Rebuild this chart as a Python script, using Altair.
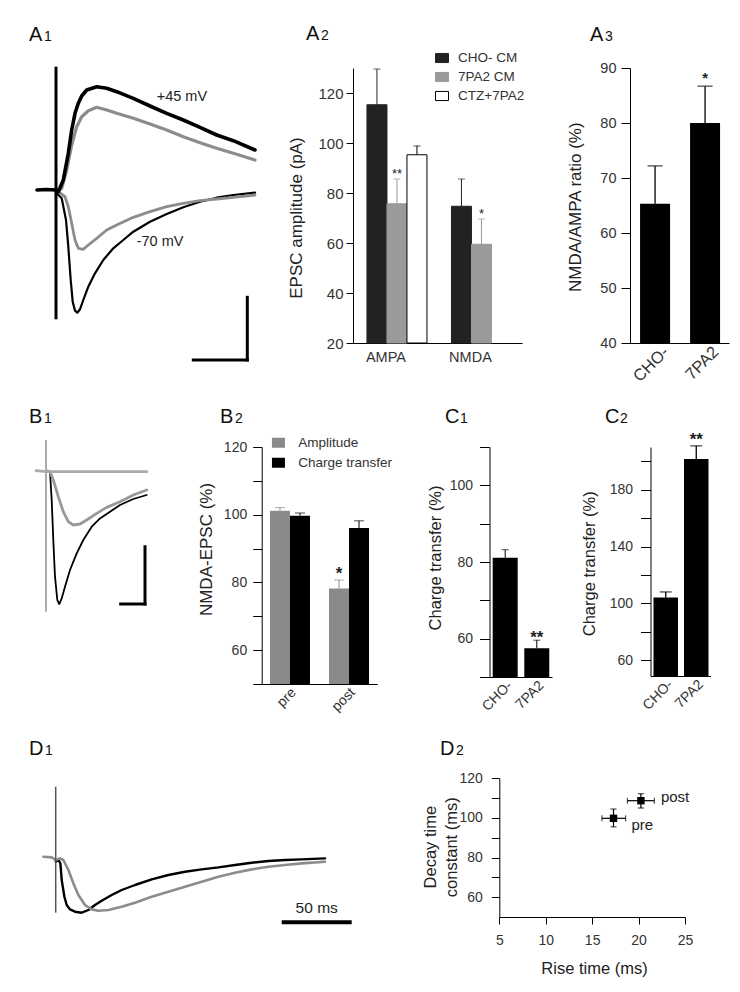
import altair as alt
import pandas as pd

FONT = "Liberation Sans"
INK = "#222222"
TICK_INK = "#333333"
W, H = 724, 976

# ======================= DATA =======================
# A1: EPSCs at +45 mV and -70 mV (t: ms after stimulus, i: current relative to baseline)
A1_P45_CHO_T = [-19, -10, 0, 2.3, 7.3, 12.3, 15.7, 19, 22.3, 25.7, 30.7, 40.7, 50.7, 60.7, 77.3, 94, 110.7, 127.3, 144, 160.7, 177.3, 199]
A1_P45_CHO_I = [0, 0.5, 0, -1.7, 10, 36.7, 60, 76.7, 86.7, 94, 100, 103.3, 101.7, 98.3, 91.7, 84, 76.7, 70, 62.7, 55, 49.3, 40]
A1_P45_7PA2_T = [0, 5.7, 10.7, 15.7, 20.7, 25.7, 32.3, 40.7, 50.7, 60.7, 77.3, 94, 110.7, 127.3, 144, 160.7, 177.3, 199]
A1_P45_7PA2_I = [-2, 1.7, 20, 45, 63.3, 73.3, 79.3, 82.7, 80, 76.7, 71.7, 66, 60, 53.3, 47.3, 41.7, 36.7, 30]
A1_M70_CHO_T = [-19, -10, 0, 0.7, 5.7, 10, 12.3, 14.7, 16.7, 19, 21.3, 24, 27.3, 32.3, 39, 47.3, 57.3, 67.3, 77.3, 94, 110.7, 127.3, 144, 160.7, 177.3, 199]
A1_M70_CHO_I = [0, 0.5, 0, -3.3, -8.3, -30, -56.7, -90, -111.7, -120.7, -122.7, -119.3, -110, -96.7, -83.3, -70, -58.3, -50, -41.7, -31.7, -24, -17.3, -11.7, -7.7, -5, -2.7]
A1_M70_7PA2_T = [0, 2.3, 9, 12.3, 15.7, 19, 22.3, 27.3, 32.3, 40.7, 50.7, 60.7, 77.3, 94, 110.7, 127.3, 144, 160.7, 177.3, 199]
A1_M70_7PA2_I = [0, -1.7, -6.7, -16.7, -33.3, -50, -58.3, -59.3, -55, -48.3, -40, -35, -27.3, -21.7, -16.7, -13.3, -10.7, -9, -7.3, -5]
A1_LABELS = ["+45 mV", "-70 mV"]

# B1: NMDA EPSCs
B1_FLAT_T = [-10, 0, 20, 40, 60, 80, 100.7]
B1_FLAT_I = [0, -1, -1, -1, -1, -1, -1]
B1_GRAY_T = [0, 4, 7.3, 12.3, 17.3, 22.3, 27.3, 34, 40.7, 50.7, 60.7, 74, 87.3, 100.7]
B1_GRAY_I = [0, -1, -9.3, -26, -41, -51, -54.3, -53.3, -49.3, -42.7, -36.7, -31, -24.3, -19.3]
B1_BLACK_T = [0, 4, 5.7, 7.3, 9, 11.3, 13.3, 15.7, 19, 24, 30.7, 37.3, 45.7, 54, 64, 74, 87.3, 100.7]
B1_BLACK_I = [0, -1, -29.3, -69.3, -106, -129.3, -133.3, -127.7, -116, -99.3, -82.7, -69.3, -56, -47.7, -41, -34.3, -28.3, -24.3]

# D1: normalised NMDA EPSCs
D1_BLACK_T = [0, 2.7, 4.7, 6, 8.7, 11, 14.3, 19.3, 26, 32.7, 39.3, 46, 56, 66, 79.3, 96, 112.7, 129.3, 146, 162.7, 179.3, 196, 212.7, 229.3, 246, 269.3]
D1_BLACK_I = [-5, -3.3, -6.7, -23.3, -40, -48.3, -52.7, -55, -56, -53.3, -48.3, -44, -38.3, -33.3, -28.3, -22.7, -18.3, -15, -12.7, -10.7, -8.3, -6, -4.3, -3.3, -2.7, -1.7]
D1_GRAY_T = [-12.3, -4, 0, 4.3, 7.7, 12.7, 17.7, 22.7, 29.3, 36, 42.7, 52.7, 66, 79.3, 96, 112.7, 129.3, 146, 162.7, 179.3, 196, 212.7, 229.3, 246, 269.3]
D1_GRAY_I = [0, -0.7, -3.3, -1.7, -3.3, -13.3, -26.7, -38.3, -48.3, -52.7, -54, -53.3, -50, -46, -40, -35, -30, -25, -20, -16, -12.7, -10, -8.3, -6.7, -5]
D1_LABEL = "50 ms"

# A2: EPSC amplitude
A2_CATS = ["AMPA", "NMDA"]
A2_SERIES = ["CHO- CM", "7PA2 CM", "CTZ+7PA2"]
A2_CAT = ["AMPA", "AMPA", "AMPA", "NMDA", "NMDA"]
A2_GRP = ["CHO- CM", "7PA2 CM", "CTZ+7PA2", "CHO- CM", "7PA2 CM"]
A2_MEAN = [115.3, 75.7, 95.3, 74.7, 59.5]
A2_ERR = [129.6, 85.6, 98.8, 85.6, 69.6]
A2_SIG = ["", "**", "", "", "*"]

# A3: NMDA/AMPA ratio
A3_CATS = ["CHO-", "7PA2"]
A3_MEAN = [65.3, 80.0]
A3_ERR = [72.2, 86.7]
A3_SIG = ["", "*"]

# B2: NMDA-EPSC
B2_CATS = ["pre", "post"]
B2_SERIES = ["Amplitude", "Charge transfer"]
B2_CAT = ["pre", "pre", "post", "post"]
B2_GRP = ["Amplitude", "Charge transfer", "Amplitude", "Charge transfer"]
B2_MEAN = [101.2, 99.7, 78.2, 96.1]
B2_ERR = [102.1, 100.5, 80.7, 98.2]
B2_SIG = ["", "", "*", ""]

# C1 / C2: charge transfer
C1_CATS = ["CHO-", "7PA2"]
C1_MEAN = [81.1, 57.5]
C1_ERR = [83.2, 59.6]
C1_SIG = ["", "**"]
C2_CATS = ["CHO-", "7PA2"]
C2_MEAN = [104.2, 201.5]
C2_ERR = [108.1, 210.8]
C2_SIG = ["", "**"]

# D2: kinetics
D2_COND = ["pre", "post"]
D2_RISE = [17.3, 20.25]
D2_RISE_LO = [16.05, 18.8]
D2_RISE_HI = [18.6, 21.7]
D2_DECAY = [99.8, 108.7]
D2_DECAY_LO = [95.5, 105.0]
D2_DECAY_HI = [104.5, 112.2]

PANELS = [("A", "1"), ("A", "2"), ("A", "3"), ("B", "1"), ("B", "2"),
          ("C", "1"), ("C", "2"), ("D", "1"), ("D", "2")]

# ======================= HELPERS =======================
ONE = pd.DataFrame({"k": [0]})


def lin(domain, rng):
    return alt.Scale(domain=domain, range=rng, nice=False, zero=False)


def trace(t, i, xs, ys, color, width):
    return alt.Chart(pd.DataFrame({"t": t, "i": i})).mark_line(
        color=color, strokeWidth=width, strokeJoin="round", strokeCap="round"
    ).encode(x=alt.X("t:Q", scale=xs, axis=None), y=alt.Y("i:Q", scale=ys, axis=None))


def bar_rule(x1, x2, y1, y2, xs, ys, color, width, cap="square"):
    return alt.Chart(ONE).mark_rule(color=color, strokeWidth=width, strokeCap=cap).encode(
        x=alt.XDatum(x1, scale=xs, axis=None), x2=alt.X2Datum(x2),
        y=alt.YDatum(y1, scale=ys, axis=None), y2=alt.Y2Datum(y2))


def note(text, x, y, xs, ys, size, align="left"):
    return alt.Chart(ONE).mark_text(text=text, font=FONT, fontSize=size, color=INK, fill=INK,
                                    align=align, baseline="middle").encode(
        x=alt.XDatum(x, scale=xs, axis=None), y=alt.YDatum(y, scale=ys, axis=None))


def y_axis(offset, values, title, tx, ty, lsize, tsize, tick, pad, label_expr=None, line_h=None):
    kw = dict(orient="left", offset=offset, values=values, title=title, titleX=tx, titleY=ty,
              titleAngle=-90, titleAlign="center", titleBaseline="middle", titleFont=FONT,
              titleFontSize=tsize, titleFontWeight="normal", titleColor=INK, labelFont=FONT,
              labelFontSize=lsize, labelColor=TICK_INK, labelPadding=pad, tickSize=tick,
              tickColor="black", tickWidth=1, domainColor="black", domainWidth=1, grid=False,
              labelFlush=False, labelOverlap=False)
    if label_expr:
        kw["labelExpr"] = label_expr
    if line_h:
        kw["titleLineHeight"] = line_h
    return alt.Axis(**kw)


def x_axis(offset, lsize, angle=0, loff=0, pad=5, align="center", baseline="top"):
    return alt.Axis(orient="bottom", offset=offset, title=None, ticks=False, labelFont=FONT,
                    labelFontSize=lsize, labelColor=TICK_INK, labelAngle=angle, labelOffset=loff,
                    labelPadding=pad, labelAlign=align, labelBaseline=baseline,
                    domainColor="black", domainWidth=1, grid=False, labelOverlap=False)


def simple_bars(cats, means, errs, sigs, xs, ys, xax, yax, base, cap, star_size, star_dy, ew=1.0):
    d = pd.DataFrame({"cat": cats, "mean": means, "err": errs, "sig": sigs})
    X = alt.X("cat:N", scale=xs, axis=xax)
    bars = alt.Chart(d).mark_bar(color="#000000").encode(
        x=X, y=alt.Y("mean:Q", scale=ys, axis=yax), y2=alt.Y2Datum(base))
    rules = alt.Chart(d).mark_rule(color="#000000", strokeWidth=ew).encode(
        x=X, y=alt.Y("mean:Q", scale=ys, axis=yax), y2="err:Q")
    caps = alt.Chart(d).mark_tick(color="#000000", thickness=ew, size=cap, orient="horizontal").encode(
        x=X, y=alt.Y("err:Q", scale=ys, axis=yax))
    stars = alt.Chart(d).mark_text(font=FONT, fontSize=star_size, fontWeight="bold", color=INK, fill=INK,
                                   baseline="alphabetic", dy=star_dy).encode(
        x=X, y=alt.Y("err:Q", scale=ys, axis=yax), text="sig:N")
    return alt.layer(bars, rules, caps, stars)


def grouped_bars(cat, grp, means, errs, sigs, series, fills, strokes, err_colors, xs, ys, xos,
                 xax, yax, base, legend, cap, star_size, star_dy, star_weight="normal", use_stroke=False):
    d = pd.DataFrame({"cat": cat, "grp": grp, "mean": means, "err": errs, "sig": sigs})
    X = alt.X("cat:N", scale=xs, axis=xax)
    XO = alt.XOffset("grp:N", scale=xos)
    enc = dict(x=X, xOffset=XO, y=alt.Y("mean:Q", scale=ys, axis=yax), y2=alt.Y2Datum(base),
               fill=alt.Fill("grp:N", scale=alt.Scale(domain=series, range=fills), legend=legend))
    if use_stroke:
        enc["stroke"] = alt.Stroke("grp:N", scale=alt.Scale(domain=series, range=strokes), legend=legend)
    bars = alt.Chart(d).mark_bar(strokeWidth=1).encode(**enc)
    layers = [bars]
    for s, c in zip(series, err_colors):
        sub = alt.Chart(d).transform_filter(alt.datum.grp == s)
        layers.append(sub.mark_rule(color=c, strokeWidth=1).encode(
            x=X, xOffset=XO, y=alt.Y("mean:Q", scale=ys, axis=yax), y2="err:Q"))
        layers.append(sub.mark_tick(color=c, thickness=1, size=cap, orient="horizontal").encode(
            x=X, xOffset=XO, y=alt.Y("err:Q", scale=ys, axis=yax)))
    layers.append(alt.Chart(d).mark_text(font=FONT, fontSize=star_size, fontWeight=star_weight,
                                         color=INK, fill=INK, baseline="alphabetic", dy=star_dy).encode(
        x=X, xOffset=XO, y=alt.Y("err:Q", scale=ys, axis=yax), text="sig:N"))
    return alt.layer(*layers)


# ======================= PANELS =======================
layers = []

# ---- A1 traces ----
xs = lin([-19, 199], [29, 247])
ys = lin([-170, 125], [352, 57])
layers.append(alt.layer(
    trace(A1_P45_7PA2_T, A1_P45_7PA2_I, xs, ys, "#8c8c8c", 3.2),
    trace(A1_M70_CHO_T, A1_M70_CHO_I, xs, ys, "#000000", 2.2),
    trace(A1_M70_7PA2_T, A1_M70_7PA2_I, xs, ys, "#8c8c8c", 2.8),
    trace(A1_P45_CHO_T, A1_P45_CHO_I, xs, ys, "#000000", 3.6),
    bar_rule(0, 0, -129.3, 123.3, xs, ys, "#000000", 3, cap="butt"),
    bar_rule(191.3, 191.3, -107.3, -170, xs, ys, "#000000", 3),
    bar_rule(137.3, 191.3, -170, -170, xs, ys, "#000000", 3),
    note(A1_LABELS[0], 100.7, 93.3, xs, ys, 14.5),
    note(A1_LABELS[1], 80.7, -51.7, xs, ys, 14.5),
))

# ---- A2 bars ----
a2_leg = alt.Legend(orient="none", legendX=427, legendY=43, title=None,
                    symbolType="M-1,-0.7H1V0.7H-1Z", symbolSize=169, symbolStrokeWidth=1,
                    labelFont=FONT, labelFontSize=13.5, labelColor=TICK_INK, labelOffset=9,
                    rowPadding=5, padding=0, labelLimit=0)
layers.append(grouped_bars(
    A2_CAT, A2_GRP, A2_MEAN, A2_ERR, A2_SIG, A2_SERIES,
    ["#222222", "#9a9a9a", "#ffffff"], ["#222222", "#9a9a9a", "#000000"],
    ["#222222", "#9a9a9a", "#000000"],
    alt.Scale(type="band", domain=A2_CATS, range=[345, 514], paddingInner=0.29, paddingOuter=0.145, align=0.57),
    lin([20, 130], [335, 60]),
    alt.Scale(domain=A2_SERIES, paddingInner=0, paddingOuter=0),
    x_axis(-641, 14.5, loff=-11, pad=7),
    y_axis(-345, [20, 40, 60, 80, 100, 120], "EPSC amplitude (pA)", -57, 209.5, 15, 17, 7, 3),
    20, a2_leg, 7, 13, -1, use_stroke=True))

# ---- A3 bars ----
layers.append(simple_bars(
    A3_CATS, A3_MEAN, A3_ERR, A3_SIG,
    alt.Scale(type="band", domain=A3_CATS, range=[622, 721], paddingInner=0.4, paddingOuter=0.19, align=0.53),
    lin([40, 90], [335, 60]),
    x_axis(-641, 16.5, angle=-45, loff=11, pad=6, align="right", baseline="middle"),
    y_axis(-622, [40, 50, 60, 70, 80, 90], "NMDA/AMPA  ratio (%)", -54.5, 198.7, 14.5, 17, 9, 5),
    40, 15, 15, -3, ew=1.3))

# ---- B1 traces ----
xs = lin([-10, 101], [28, 139])
ys = lin([-135, 31], [597.7, 431.7])
layers.append(alt.layer(
    trace(B1_BLACK_T, B1_BLACK_I, xs, ys, "#000000", 1.8),
    trace(B1_GRAY_T, B1_GRAY_I, xs, ys, "#999999", 2.8),
    trace(B1_FLAT_T, B1_FLAT_I, xs, ys, "#aaaaaa", 2.8),
    bar_rule(0, 0, -141, 30.7, xs, ys, "#aaaaaa", 2, cap="butt"),
    bar_rule(99, 99, -76, -133.3, xs, ys, "#000000", 3),
    bar_rule(74.7, 99, -133.3, -133.3, xs, ys, "#000000", 3),
))

# ---- B2 bars ----
b2_leg = alt.Legend(orient="none", legendX=263.7, legendY=428, title=None,
                    symbolType="M-1,-0.77H1V0.77H-1Z", symbolSize=169, symbolStrokeWidth=0,
                    labelFont=FONT, labelFontSize=13.5, labelColor=TICK_INK, labelOffset=13,
                    rowPadding=5, padding=0, labelLimit=0)
layers.append(grouped_bars(
    B2_CAT, B2_GRP, B2_MEAN, B2_ERR, B2_SIG, B2_SERIES,
    ["#8a8a8a", "#000000"], ["#8a8a8a", "#000000"], ["#8a8a8a", "#000000"],
    alt.Scale(type="band", domain=B2_CATS, range=[253.7, 369.3], paddingInner=0.322, paddingOuter=0.14, align=0.5),
    lin([50, 120], [676, 439]),
    alt.Scale(domain=B2_SERIES, paddingInner=0, paddingOuter=0),
    x_axis(-300, 14, angle=-45, loff=4, pad=6, align="right", baseline="middle"),
    y_axis(-253.7, [50, 60, 70, 80, 90, 100, 110, 120], "NMDA-EPSC (%)", -55, 541, 14, 17, 9, 6,
           label_expr="datum.value % 20 == 0 ? datum.label : ''"),
    50, b2_leg, 10, 17, -1, star_weight="bold"))

# ---- C1 bars ----
layers.append(simple_bars(
    C1_CATS, C1_MEAN, C1_ERR, C1_SIG,
    alt.Scale(type="band", domain=C1_CATS, range=[481.5, 544], paddingInner=0.209, paddingOuter=0.0935, align=0.54),
    lin([50, 110], [669, 439]),
    x_axis(-307, 14, angle=-45, loff=5, pad=6, align="right", baseline="middle"),
    y_axis(-481.5, [50, 60, 70, 80, 90, 100, 110], "Charge transfer (%)", -54.5, 549.5, 14, 16.5, 10, 7,
           label_expr="datum.value % 20 == 0 ? datum.label : ''"),
    50, 7, 17, 3))

# ---- C2 bars ----
layers.append(simple_bars(
    C2_CATS, C2_MEAN, C2_ERR, C2_SIG,
    alt.Scale(type="band", domain=C2_CATS, range=[642.5, 702.5], paddingInner=0.197, paddingOuter=0.082, align=0.6),
    lin([49, 210], [668, 439]),
    x_axis(-308, 14, angle=-45, loff=5, pad=6, align="right", baseline="middle"),
    y_axis(-642.5, [60, 80, 100, 120, 140, 160, 180, 200], "Charge transfer (%)", -61, 555.3, 14, 16.5, 10, 8,
           label_expr="(datum.value - 60) % 40 == 0 ? datum.label : ''"),
    49, 12, 17, -1, ew=1.3))

# ---- D1 traces ----
xs = lin([-13, 296], [34.7, 343.7])
ys = lin([-66, 70], [914.7, 778.7])
layers.append(alt.layer(
    trace(D1_BLACK_T, D1_BLACK_I, xs, ys, "#000000", 2.4),
    trace(D1_GRAY_T, D1_GRAY_I, xs, ys, "#8c8c8c", 2.6),
    bar_rule(0, 0, -56, 70, xs, ys, "#555555", 1.5, cap="butt"),
    bar_rule(226, 296, -65.6, -65.6, xs, ys, "#000000", 4, cap="butt"),
    note(D1_LABEL, 261, -51.6, xs, ys, 15.5, align="center"),
))

# ---- D2 scatter ----
d2 = pd.DataFrame({"cond": D2_COND, "rise": D2_RISE, "rlo": D2_RISE_LO, "rhi": D2_RISE_HI,
                   "decay": D2_DECAY, "dlo": D2_DECAY_LO, "dhi": D2_DECAY_HI})
xs = lin([5, 25], [491.3, 677])
ys = lin([50, 120], [909, 770.3])
d2_xax = alt.Axis(orient="bottom", offset=-67, values=[5, 10, 15, 20, 25], title="Rise time (ms)",
                  titleX=586, titleY=51.3, titleAngle=0, titleAlign="center", titleBaseline="middle",
                  titleFont=FONT, titleFontSize=16.5, titleFontWeight="normal", titleColor=INK,
                  labelFont=FONT, labelFontSize=14, labelColor=TICK_INK, labelPadding=9,
                  tickSize=7, tickColor="black", domainColor="black", grid=False, labelFlush=False)
d2_yax = y_axis(-491.3, [60, 70, 80, 90, 100, 110, 120], ["Decay time", "constant (ms)"], -69.3, 838.7,
                14, 16.5, 8, 9, label_expr="datum.value % 20 == 0 ? datum.label : ''", line_h=21)
XR = alt.X("rise:Q", scale=xs, axis=d2_xax)
YD = alt.Y("decay:Q", scale=ys, axis=d2_yax)
base = alt.Chart(d2)
layers.append(alt.layer(
    base.mark_rule(color="black", strokeWidth=1.2).encode(x=alt.X("rlo:Q", scale=xs, axis=d2_xax), x2="rhi:Q", y=YD),
    base.mark_rule(color="black", strokeWidth=1.2).encode(x=XR, y=alt.Y("dlo:Q", scale=ys, axis=d2_yax), y2="dhi:Q"),
    base.mark_tick(color="black", thickness=1.2, size=6, orient="vertical").encode(x=alt.X("rlo:Q", scale=xs, axis=d2_xax), y=YD),
    base.mark_tick(color="black", thickness=1.2, size=6, orient="vertical").encode(x=alt.X("rhi:Q", scale=xs, axis=d2_xax), y=YD),
    base.mark_tick(color="black", thickness=1.2, size=6, orient="horizontal").encode(x=XR, y=alt.Y("dlo:Q", scale=ys, axis=d2_yax)),
    base.mark_tick(color="black", thickness=1.2, size=6, orient="horizontal").encode(x=XR, y=alt.Y("dhi:Q", scale=ys, axis=d2_yax)),
    base.mark_square(color="black", size=55, opacity=1).encode(x=XR, y=YD),
    base.transform_filter(alt.datum.cond == "pre").mark_text(
        font=FONT, fontSize=15, color=INK, align="left", baseline="middle", dx=18, dy=7).encode(x=XR, y=YD, text="cond:N"),
    base.transform_filter(alt.datum.cond == "post").mark_text(
        font=FONT, fontSize=15, color=INK, align="left", baseline="middle", dx=20, dy=-4).encode(x=XR, y=YD, text="cond:N"),
))

# ---- panel letters ----
LABEL_POS = [(21, 36, 32.7), (298, 313, 32), (582, 597, 32.7), (21, 36, 414.7), (212, 227, 414.7),
             (437, 452, 414.7), (597, 612, 414.7), (21, 37, 747), (432, 448, 747)]
for (letter, digit), (lx, dx_, by) in zip(PANELS, LABEL_POS):
    layers.append(alt.Chart(ONE).mark_text(text=letter, font=FONT, fontSize=20, color="#111111",
                                           align="left", baseline="alphabetic").encode(
        x=alt.value(lx), y=alt.value(by)))
    layers.append(alt.Chart(ONE).mark_text(text=digit, font=FONT, fontSize=14, color="#111111",
                                           align="left", baseline="alphabetic").encode(
        x=alt.value(dx_), y=alt.value(by)))

chart = alt.layer(*layers).resolve_scale(
    x="independent", y="independent", xOffset="independent", fill="independent", stroke="independent"
).resolve_axis(x="independent", y="independent").resolve_legend(
    fill="independent", stroke="independent"
).properties(
    width=W, height=H, padding=0, autosize=alt.AutoSizeParams(type="none")
).configure_view(stroke=None).configure_axis(titleFontWeight="normal")

chart.save("out.html", embed_options={"renderer": "svg", "actions": False})
